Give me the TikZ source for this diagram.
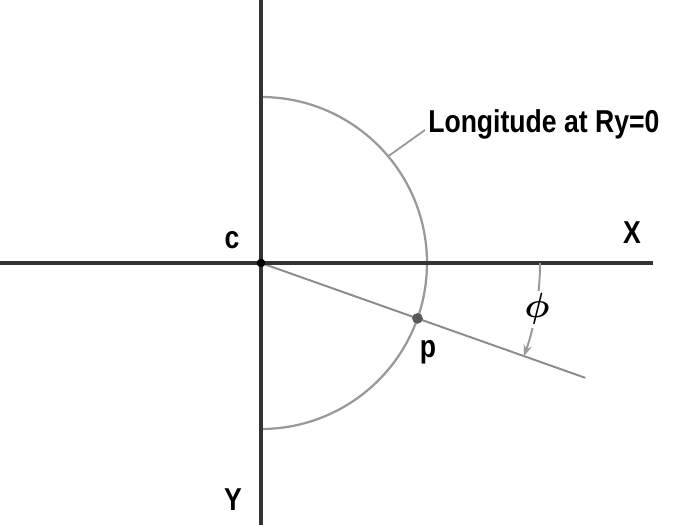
\documentclass[tikz,border=0pt]{standalone}
\usepackage{fontspec}
\newfontfamily\condfont[FakeStretch=0.84]{Liberation Sans}
\usetikzlibrary{arrows.meta}

\begin{document}
\begin{tikzpicture}[x=0.025cm, y=0.025cm,
    axisline/.style={draw=black!80, line width=2.2pt},
    guideline/.style={draw=black!40, line width=1.6pt},
    lbl/.style={font=\condfont\bfseries\fontsize{22.5}{24}\selectfont, text=black, inner sep=0pt}]

        % Define parameters
        \def\rad{166}        % Radius of the longitude circle
        \def\tilt{-19.5}     % Angle of the ray through p
        \def\raylen{344}     % Length of the ray
        \def\arcrad{279}     % Radius of the angle marker

        \useasboundingbox (-261,-262) rectangle (439,263);

        % Key points
        \coordinate (c) at (0,0);
        \coordinate (xl) at (-261,0);
        \coordinate (xr) at (392,0);
        \coordinate (yt) at (0,263);
        \coordinate (yb) at (0,-262);
        \coordinate (top) at (90:\rad);
        \coordinate (ray) at (\tilt:\raylen);
        \coordinate (lead) at (40:\rad);
        \coordinate (arcstart) at (0:\arcrad);

        % Draw the half circle of longitude
        \draw[guideline] (top) arc (90:-90:\rad);

        % Draw the ray through p
        \draw[guideline, line width=1.4pt, draw=black!45] (c) -- (ray);

        % Draw the axes
        \draw[axisline] (xl) -- (xr);
        \draw[axisline] (yt) -- (yb);

        % Angle marker
        \draw[guideline, line width=1.4pt, -{Stealth[length=8pt,width=6pt]}]
            (arcstart) arc (0:\tilt:\arcrad);
        \node[fill=white, inner sep=2pt, font=\fontsize{27}{28}\selectfont\boldmath] (phi) at (-9.5:280) {$\phi$};

        % Points
        \filldraw[black] (c) circle (4);
        \filldraw[black!65] (\tilt:\rad) circle (5) coordinate (p);

        % Labels
        \node[lbl, anchor=west] (lon) at (167,139) {Longitude at Ry=0};
        \draw[guideline, line width=1.3pt] (lon.west) ++(-3,-6) coordinate (leadend) (leadend) -- (lead);
        \node[lbl] (clbl) at (-29,23) {c};
        \node[lbl] (xlbl) at (371,30) {X};
        \node[lbl] (ylbl) at (-28,-237) {Y};
        \node[lbl] (plbl) at (167,-89) {p};

    \end{tikzpicture}
\end{document}
